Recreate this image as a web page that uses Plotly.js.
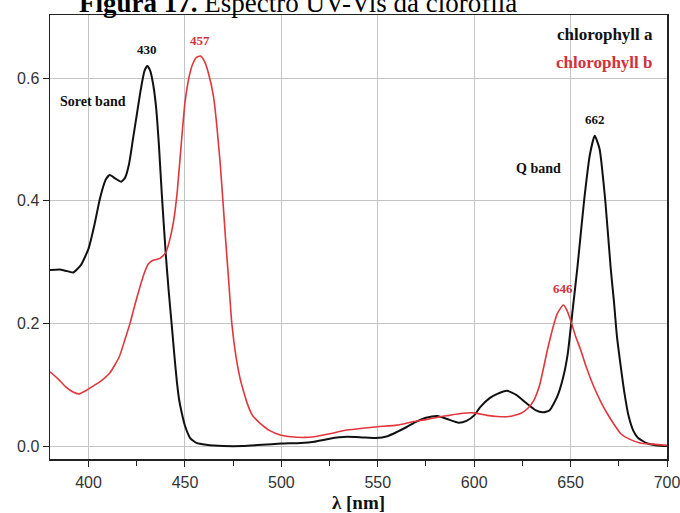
<!DOCTYPE html>
<html>
<head>
<meta charset="utf-8">
<script src="https://cdn.plot.ly/plotly-3.0.1.min.js"></script>
<style>html,body{margin:0;padding:0;background:#fff;}#chart{width:680px;height:513px;}</style>
</head>
<body>
<div id="chart"></div>
<script>
// Chlorophyll a (black)
const wlA = [380,385,388,392,396,400,403,406,409,411,414,417,419,421,423,425,427,429,430.5,432,433.5,435,436.5,438,440,441.5,443.2,444.5,445.8,447,448.4,450,452.7,456,461,470,480,490,500,510,517,525,534,542,549,555,560,565,569,575,581,586,592,596,600,603,608,612,617,622,627,632,635.5,639,643,646,648.5,651,653.5,657,660,662.5,665,668,670.8,672.5,674,676,678,680,682.5,685,690,695,700];
const absA = [0.287,0.288,0.286,0.283,0.295,0.322,0.36,0.405,0.435,0.442,0.436,0.431,0.438,0.46,0.50,0.54,0.58,0.612,0.62,0.612,0.59,0.553,0.49,0.41,0.315,0.255,0.195,0.148,0.105,0.075,0.053,0.033,0.013,0.005,0.002,0.0,0.0,0.002,0.004,0.005,0.007,0.012,0.015,0.014,0.013,0.016,0.023,0.031,0.038,0.046,0.049,0.044,0.038,0.041,0.05,0.063,0.078,0.085,0.09,0.083,0.07,0.058,0.055,0.058,0.08,0.11,0.15,0.22,0.29,0.40,0.475,0.506,0.485,0.40,0.29,0.235,0.18,0.13,0.085,0.05,0.025,0.013,0.004,0.001,0.0];
// Chlorophyll b (red)
const wlB = [380,384,388,392,395,399,403,406,411,416,419,421.5,424,426.7,429,431,433.5,437,440,442,444,446,448,450,452,454,456,458,460,462,464.8,468.3,471,472.5,474.3,476.5,478.6,480.5,482,485,489,494,499.4,505,512,517,525,534,542,550,560,568.6,575,581,587,593,600,606.7,612,618,624,628,631,634,638,641,643.1,646.2,648,650,652.5,655.2,658,662,666,669,673,676,680,686,692,700];
const absB = [0.121,0.11,0.097,0.088,0.085,0.091,0.099,0.105,0.119,0.146,0.175,0.20,0.23,0.26,0.283,0.297,0.303,0.306,0.315,0.335,0.365,0.415,0.49,0.56,0.60,0.623,0.634,0.636,0.628,0.61,0.57,0.46,0.34,0.277,0.20,0.145,0.11,0.088,0.072,0.05,0.037,0.025,0.018,0.015,0.014,0.015,0.02,0.026,0.029,0.0315,0.034,0.04,0.043,0.047,0.05,0.053,0.054,0.05,0.048,0.048,0.053,0.062,0.075,0.10,0.157,0.195,0.216,0.23,0.222,0.205,0.18,0.157,0.13,0.097,0.07,0.053,0.033,0.02,0.012,0.005,0.003,0.001];

const seriesNames = ['chlorophyll a','chlorophyll b'];
const peakLabels = [
  {x:430.5, y:0.62, text:'430', color:'#111'},
  {x:458, y:0.636, text:'457', color:'#d2323a'},
  {x:662.5, y:0.506, text:'662', color:'#111'},
  {x:646.2, y:0.23, text:'646', color:'#d2323a'}
];
const bandLabels = [
  {x:402.5, y:0.562, text:'Soret band'},
  {x:633.4, y:0.453, text:'Q band'}
];

const serif = 'Liberation Serif, Times New Roman, serif';
const traces = [
  {x:wlA, y:absA, name:seriesNames[0], type:'scatter', mode:'lines',
   line:{color:'#111', width:2, shape:'spline', smoothing:0.5}},
  {x:wlB, y:absB, name:seriesNames[1], type:'scatter', mode:'lines',
   line:{color:'#e0363c', width:1.6, shape:'spline', smoothing:0.5}}
];

const annotations = [];
peakLabels.forEach(p => annotations.push({
  x:p.x, y:p.y, xref:'x', yref:'y', text:'<b>'+p.text+'</b>', showarrow:true,
  arrowcolor:'rgba(0,0,0,0)', ax:0, ay:-16, font:{family:serif, size:13, color:p.color}
}));
bandLabels.forEach(b => annotations.push({
  x:b.x, y:b.y, xref:'x', yref:'y', text:'<b>'+b.text+'</b>', showarrow:false,
  font:{family:serif, size:14, color:'#111'}
}));
annotations.push({x:0.9805, y:0.955, xref:'paper', yref:'paper', xanchor:'right', yanchor:'middle',
  text:'<b>'+seriesNames[0]+'</b>', showarrow:false, font:{family:serif, size:17, color:'#111'}});
annotations.push({x:0.9805, y:0.892, xref:'paper', yref:'paper', xanchor:'right', yanchor:'middle',
  text:'<b>'+seriesNames[1]+'</b>', showarrow:false, font:{family:serif, size:17, color:'#d2323a'}});
// Figure caption (partly cut at the top edge, as in the source image)
annotations.push({x:0.402, y:1.027, xref:'paper', yref:'paper', xanchor:'center', yanchor:'middle',
  text:'<b>Figura 17.</b> Espectro UV-Vis da clorofila', showarrow:false,
  font:{family:serif, size:27, color:'#000'}});

const layout = {
  width:680, height:513,
  margin:{l:50, r:13, t:15, b:54},
  paper_bgcolor:'#fff', plot_bgcolor:'#fff',
  showlegend:false,
  xaxis:{
    range:[380,700], tickvals:[400,450,500,550,600,650,700],
    ticks:'outside', ticklen:6, tickcolor:'#222', ticklabelstandoff:2,
    ticklabeloverflow:'allow',
    minor:{dtick:25, tick0:375, ticks:'outside', ticklen:5, tickcolor:'#222', showgrid:false},
    showgrid:true, gridcolor:'#c4c4c4', gridwidth:1,
    showline:true, linecolor:'#222', linewidth:1.5, mirror:true,
    zeroline:false,
    tickfont:{family:'Liberation Sans, Arial, sans-serif', size:16, color:'#333'},
    title:{text:'<b>λ [nm]</b>', font:{family:serif, size:19, color:'#111'}, standoff:6}
  },
  yaxis:{
    range:[-0.0212,0.703], tickvals:[0,0.2,0.4,0.6], tickformat:'.1f',
    ticks:'outside', ticklen:6, tickcolor:'#222',
    showgrid:true, gridcolor:'#c4c4c4', gridwidth:1,
    showline:true, linecolor:'#222', linewidth:1.5, mirror:true,
    zeroline:false,
    tickfont:{family:'Liberation Sans, Arial, sans-serif', size:16, color:'#333'}
  },
  annotations:annotations
};

Plotly.newPlot('chart', traces, layout, {displayModeBar:false, staticPlot:true});
</script>
</body>
</html>
